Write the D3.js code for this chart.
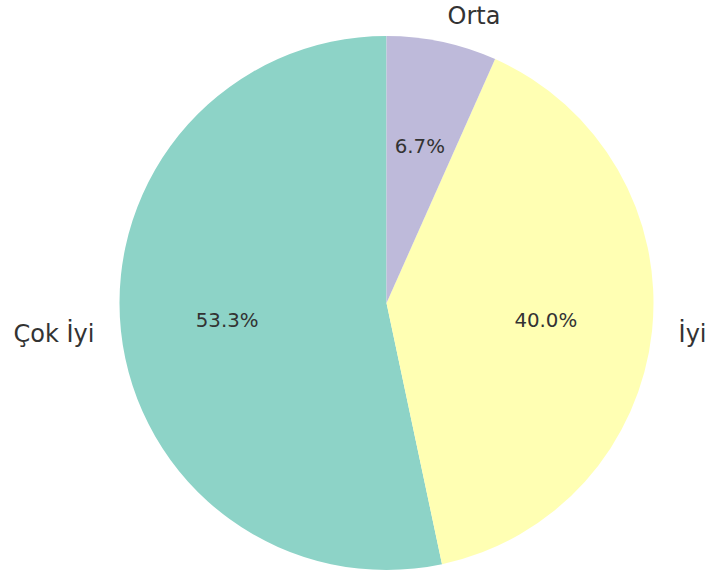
<!DOCTYPE html>
<html>
<head>
<meta charset="utf-8">
<script src="https://cdn.jsdelivr.net/npm/d3@7"></script>
<style>
  body { margin: 0; background: #fff; }
  text { font-family: "DejaVu Sans", sans-serif; fill: #333; }
</style>
</head>
<body>
<div id="chart"></div>
<script>
// data
var labels = ['Çok İyi', 'İyi', 'Orta'];
var counts = [8, 6, 1];
var colors = ['#8dd3c7', '#ffffb3', '#bebada'];

var width = 711, height = 574;
var cx = 386.5, cy = 303, radius = 267;

var svg = d3.select('#chart').append('svg')
    .attr('width', width)
    .attr('height', height);

var g = svg.append('g').attr('transform', 'translate(' + cx + ',' + cy + ')');

// start at the top and go counter-clockwise
var pie = d3.pie().sort(null).startAngle(0).endAngle(-2 * Math.PI);
var arcs = pie(counts);
var total = d3.sum(counts);

var arc = d3.arc().innerRadius(0).outerRadius(radius);

g.selectAll('path.slice')
    .data(arcs)
    .enter().append('path')
        .attr('class', 'slice')
        .attr('d', arc)
        .attr('fill', function(d, i){ return colors[i] });

function mid(d){ return (d.startAngle + d.endAngle) / 2 }

// percent labels at 0.6 r
g.selectAll('text.pct')
    .data(arcs)
    .enter().append('text')
        .attr('class', 'pct')
        .attr('x', function(d){ return Math.sin(mid(d)) * radius * 0.6 })
        .attr('y', function(d){ return -Math.cos(mid(d)) * radius * 0.6 })
        .attr('dy', '0.35em')
        .attr('text-anchor', 'middle')
        .style('font-size', '19.8px')
        .text(function(d){ return (d.value / total * 100).toFixed(1) + '%' });

// category labels at 1.1 r
g.selectAll('text.lbl')
    .data(arcs)
    .enter().append('text')
        .attr('class', 'lbl')
        .attr('x', function(d){ return Math.sin(mid(d)) * radius * 1.1 })
        .attr('y', function(d){ return -Math.cos(mid(d)) * radius * 1.1 })
        .attr('dy', '0.33em')
        .attr('text-anchor', function(d){ return Math.sin(mid(d)) < 0 ? 'end' : 'start' })
        .style('font-size', '24px')
        .text(function(d, i){ return labels[i] });
</script>
</body>
</html>
